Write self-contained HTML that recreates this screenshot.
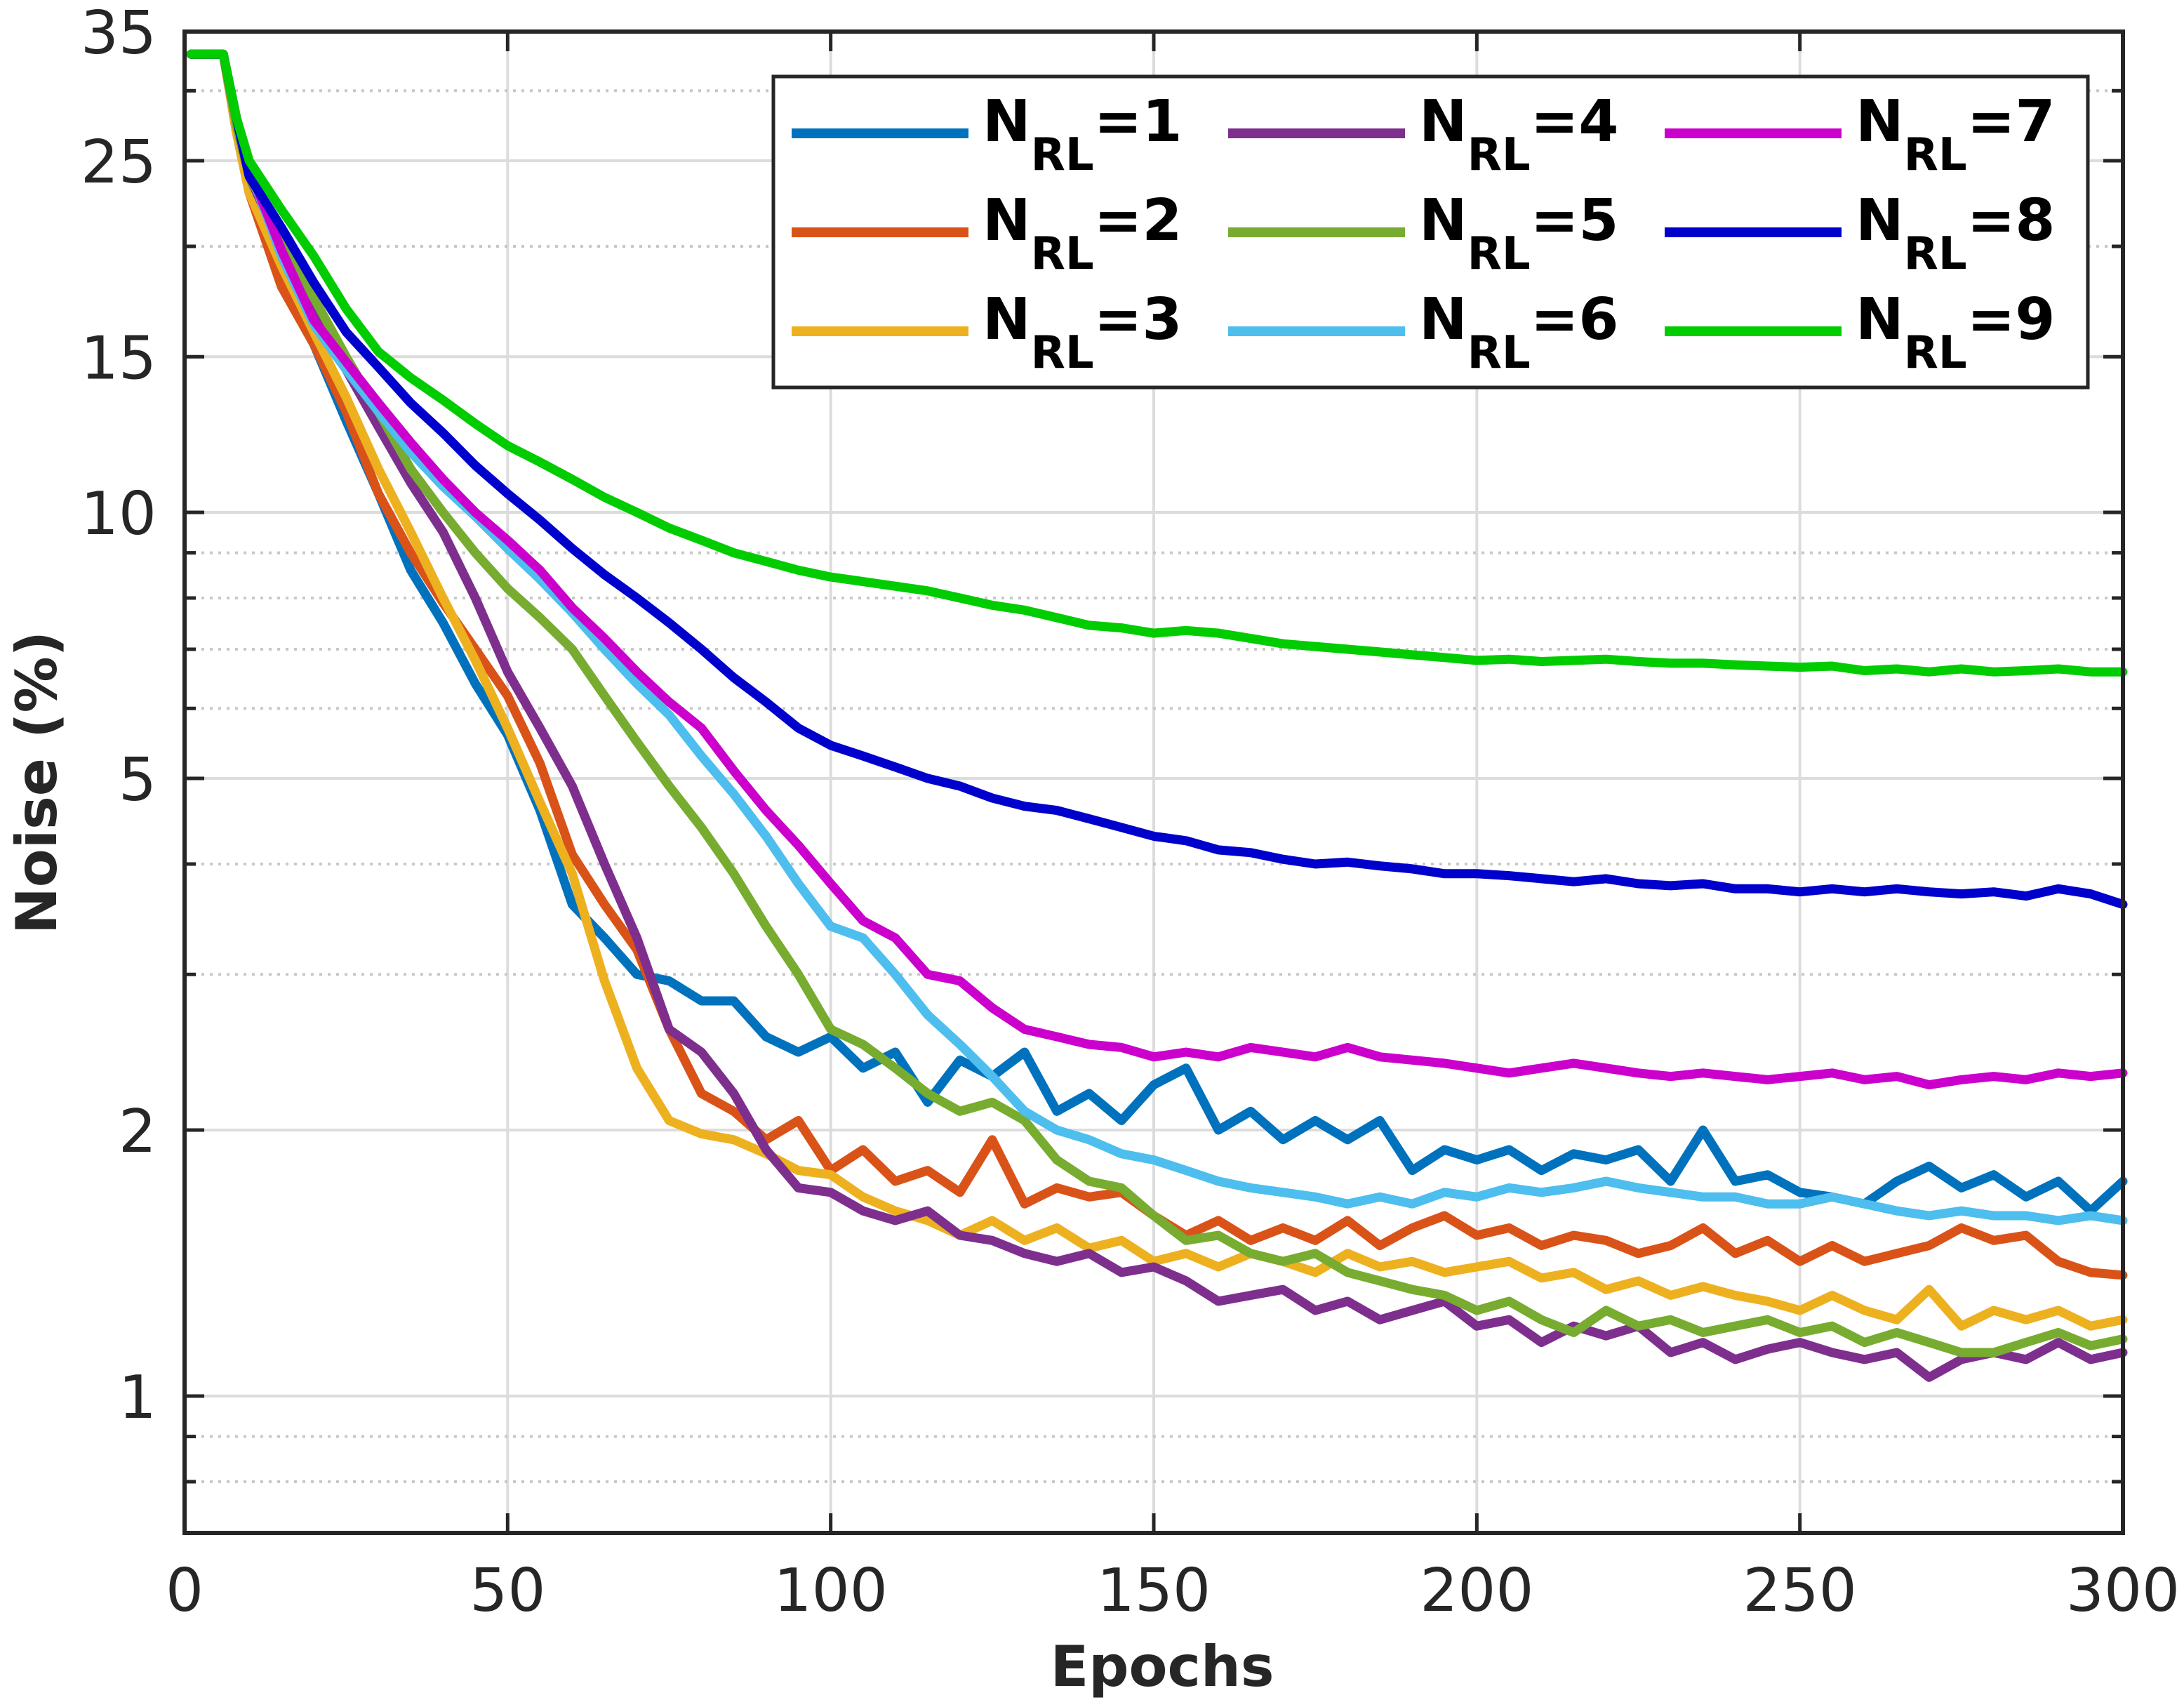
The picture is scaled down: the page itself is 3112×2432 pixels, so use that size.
<!DOCTYPE html>
<html><head><meta charset="utf-8">
<style>
html,body{margin:0;padding:0;background:#fff;}
svg{display:block;}
text{font-family:"DejaVu Sans","Liberation Sans",sans-serif;}
</style></head>
<body>
<svg id="chart" width="3112" height="2432" viewBox="0 0 3112 2432" xmlns="http://www.w3.org/2000/svg">
<rect x="0" y="0" width="3112" height="2432" fill="#fff"/>
<g id="grid"></g>
<g id="series"></g>
<g id="axes"></g>
<g id="legend"></g>
</svg>
<script>
const epochs = [1,6,8,10,15,20,25,30,35,40,45,50,55,60,65,70,75,80,85,90,95,100,105,110,115,120,125,130,135,140,145,150,155,160,165,170,175,180,185,190,195,200,205,210,215,220,225,230,235,240,245,250,255,260,265,270,275,280,285,290,295,300];
const s1 = [33,33,27,23,19,15.5,12.7,10.5,8.6,7.5,6.4,5.6,4.6,3.6,3.3,3.0,2.95,2.8,2.8,2.55,2.45,2.55,2.35,2.45,2.15,2.4,2.3,2.45,2.1,2.2,2.05,2.25,2.35,2.0,2.1,1.95,2.05,1.95,2.05,1.8,1.9,1.85,1.9,1.8,1.88,1.85,1.9,1.75,2.0,1.75,1.78,1.7,1.68,1.65,1.75,1.82,1.72,1.78,1.68,1.75,1.62,1.75];
const s2 = [33,33,27,23,18,15.5,13,10.5,9.0,7.9,7.0,6.2,5.2,4.1,3.6,3.2,2.6,2.2,2.1,1.95,2.05,1.8,1.9,1.75,1.8,1.7,1.95,1.65,1.72,1.68,1.7,1.6,1.52,1.58,1.5,1.55,1.5,1.58,1.48,1.55,1.6,1.52,1.55,1.48,1.52,1.5,1.45,1.48,1.55,1.45,1.5,1.42,1.48,1.42,1.45,1.48,1.55,1.5,1.52,1.42,1.38,1.37];
const s3 = [33,33,27,23,19,16,13.5,11.2,9.5,8.0,6.8,5.7,4.7,3.9,2.95,2.35,2.05,1.98,1.95,1.88,1.8,1.78,1.68,1.62,1.58,1.52,1.58,1.5,1.55,1.47,1.5,1.42,1.45,1.4,1.45,1.42,1.38,1.45,1.4,1.42,1.38,1.4,1.42,1.36,1.38,1.32,1.35,1.3,1.33,1.3,1.28,1.25,1.3,1.25,1.22,1.32,1.2,1.25,1.22,1.25,1.2,1.22];
const s4 = [33,33,27.5,24,20,17,14.5,12.5,10.8,9.5,8.0,6.6,5.7,4.9,4.0,3.3,2.6,2.45,2.2,1.9,1.72,1.7,1.62,1.58,1.62,1.52,1.5,1.45,1.42,1.45,1.38,1.4,1.35,1.28,1.3,1.32,1.25,1.28,1.22,1.25,1.28,1.2,1.22,1.15,1.2,1.17,1.2,1.12,1.15,1.1,1.13,1.15,1.12,1.1,1.12,1.05,1.1,1.12,1.1,1.15,1.1,1.12];
const s5 = [33,33,27.5,24,20.5,17.5,15,13,11.2,10,9.0,8.2,7.6,7.0,6.2,5.5,4.9,4.4,3.9,3.4,3.0,2.6,2.5,2.35,2.2,2.1,2.15,2.05,1.85,1.75,1.72,1.6,1.5,1.52,1.45,1.42,1.45,1.38,1.35,1.32,1.3,1.25,1.28,1.22,1.18,1.25,1.2,1.22,1.18,1.2,1.22,1.18,1.2,1.15,1.18,1.15,1.12,1.12,1.15,1.18,1.14,1.16];
const s6 = [33,33,28,24.5,19.5,16.3,14.5,13.0,11.7,10.7,9.9,9.1,8.4,7.7,7.0,6.4,5.9,5.3,4.8,4.3,3.8,3.4,3.3,3.0,2.7,2.5,2.3,2.1,2.0,1.95,1.88,1.85,1.8,1.75,1.72,1.7,1.68,1.65,1.68,1.65,1.7,1.68,1.72,1.7,1.72,1.75,1.72,1.7,1.68,1.68,1.65,1.65,1.68,1.65,1.62,1.6,1.62,1.6,1.6,1.58,1.6,1.58];
const s7 = [33,33,28,24.5,19.8,16.5,14.8,13.3,12.0,10.9,10.0,9.3,8.6,7.8,7.2,6.6,6.1,5.7,5.1,4.6,4.2,3.8,3.45,3.3,3.0,2.95,2.75,2.6,2.55,2.5,2.48,2.42,2.45,2.42,2.48,2.45,2.42,2.48,2.42,2.4,2.38,2.35,2.32,2.35,2.38,2.35,2.32,2.3,2.32,2.3,2.28,2.3,2.32,2.28,2.3,2.25,2.28,2.3,2.28,2.32,2.3,2.32];
const s8 = [33,33,28,24,21,18.2,16,14.6,13.3,12.3,11.3,10.5,9.8,9.1,8.5,8.0,7.5,7.0,6.5,6.1,5.7,5.45,5.3,5.15,5.0,4.9,4.75,4.65,4.6,4.5,4.4,4.3,4.25,4.15,4.12,4.05,4.0,4.02,3.98,3.95,3.9,3.9,3.88,3.85,3.82,3.85,3.8,3.78,3.8,3.75,3.75,3.72,3.75,3.72,3.75,3.72,3.7,3.72,3.68,3.75,3.7,3.6];
const s9 = [33,33,28,25,22,19.5,17,15.2,14.2,13.4,12.6,11.9,11.4,10.9,10.4,10.0,9.6,9.3,9.0,8.8,8.6,8.45,8.35,8.25,8.15,8.0,7.85,7.75,7.6,7.45,7.4,7.3,7.35,7.3,7.2,7.1,7.05,7.0,6.95,6.9,6.85,6.8,6.82,6.78,6.8,6.82,6.78,6.75,6.75,6.72,6.7,6.68,6.7,6.62,6.65,6.6,6.65,6.6,6.62,6.65,6.6,6.6];
const seriesValues = [s1,s2,s3,s4,s5,s6,s7,s8,s9];
const seriesLabels = ["1","2","3","4","5","6","7","8","9"];
const xTicks = [0,50,100,150,200,250,300];
const yMajor = [1,2,5,10,15,25,35];
const yMinor = [0.8,0.9,3,4,6,7,8,9,20,30];
const colors = ["#0072BD","#D95319","#EDB120","#7E2F8E","#77AC30","#4DBEEE","#CC00CC","#0000CC","#00CC00"];

const NS = "http://www.w3.org/2000/svg";
const L = 263, R = 3025, T = 45, B = 2184;
const yMin = 0.7, yMax = 35;
function xs(e){ return L + (e - 0) / 300 * (R - L); }
function ys(v){ return B - (Math.log10(v) - Math.log10(yMin)) / (Math.log10(yMax) - Math.log10(yMin)) * (B - T); }
function mk(tag, attrs, parent){
  const el = document.createElementNS(NS, tag);
  for (const k in attrs) el.setAttribute(k, attrs[k]);
  parent.appendChild(el);
  return el;
}
const grid = document.getElementById('grid');
const axes = document.getElementById('axes');
const seriesG = document.getElementById('series');
const legend = document.getElementById('legend');

xTicks.forEach(t => {
  const g = mk('line', {x1:xs(t), x2:xs(t), y1:T, y2:B, stroke:'#dcdcdc', 'stroke-width':4}, grid);
  
  
  const tk1 = mk('line', {x1:xs(t), x2:xs(t), y1:B, y2:B-28, stroke:'#262626', 'stroke-width':5}, axes);
  
  
  const tk2 = mk('line', {x1:xs(t), x2:xs(t), y1:T, y2:T+28, stroke:'#262626', 'stroke-width':5}, axes);
  
  
  const tx = mk('text', {x:xs(t), y:2295, 'text-anchor':'middle', 'font-size':85, fill:'#262626'}, axes);
  tx.textContent = t;
  
  
});
yMajor.forEach(v => {
  const g = mk('line', {x1:L, x2:R, y1:ys(v), y2:ys(v), stroke:'#dcdcdc', 'stroke-width':4}, grid);
  
  
  const tk1 = mk('line', {x1:L, x2:L+28, y1:ys(v), y2:ys(v), stroke:'#262626', 'stroke-width':5}, axes);
  
  
  const tk2 = mk('line', {x1:R, x2:R-28, y1:ys(v), y2:ys(v), stroke:'#262626', 'stroke-width':5}, axes);
  
  
  const tx = mk('text', {x:223, y:ys(v)+31, 'text-anchor':'end', 'font-size':85, fill:'#262626'}, axes);
  tx.textContent = v;
  
  
});
yMinor.forEach(v => {
  const g = mk('line', {x1:L, x2:R, y1:ys(v), y2:ys(v), stroke:'#c8c8c8', 'stroke-width':4, 'stroke-dasharray':'4 8'}, grid);
  
  
  const tk1 = mk('line', {x1:L, x2:L+16, y1:ys(v), y2:ys(v), stroke:'#262626', 'stroke-width':5}, axes);
  
  
  const tk2 = mk('line', {x1:R, x2:R-16, y1:ys(v), y2:ys(v), stroke:'#262626', 'stroke-width':5}, axes);
  
  
});

seriesValues.forEach((vals, i) => {
  const d = vals.map((v, j) => (j ? 'L' : 'M') + xs(epochs[j]).toFixed(1) + ' ' + ys(v).toFixed(1)).join(' ');
  const p = mk('path', {d:d, fill:'none', stroke:colors[i], 'stroke-width':13, 'stroke-linejoin':'round', 'stroke-linecap':'round'}, seriesG);
  
  
});

const frame = mk('rect', {x:L, y:T, width:R-L, height:B-T, fill:'none', stroke:'#262626', 'stroke-width':6}, axes);



const xl = mk('text', {x:1656, y:2402, 'text-anchor':'middle', 'font-size':80, 'font-weight':'bold', fill:'#262626'}, axes);
xl.textContent = 'Epochs';


const yl = mk('text', {x:0, y:0, 'text-anchor':'middle', 'font-size':80, 'font-weight':'bold', fill:'#262626', transform:'translate(80,1115) rotate(-90)'}, axes);
yl.textContent = 'Noise (%)';



const box = mk('rect', {x:1102, y:109, width:1873, height:443, fill:'#fff', stroke:'#262626', 'stroke-width':5}, legend);


seriesLabels.forEach((lab, i) => {
  const col = Math.floor(i / 3), row = i % 3;
  const ox = col * 622, oy = 190 + row * 141;
  const ln = mk('line', {x1:1128+ox, x2:1380+ox, y1:oy, y2:oy, stroke:colors[i], 'stroke-width':14}, legend);
  
  
  const t = mk('text', {x:1400+ox, y:oy+11, 'font-size':82, 'font-weight':'bold', fill:'#000'}, legend);
  
  
  const a = document.createElementNS(NS, 'tspan'); a.textContent = 'N'; t.appendChild(a);
  const b = document.createElementNS(NS, 'tspan'); b.textContent = 'RL'; b.setAttribute('font-size', 64); b.setAttribute('dy', 41); t.appendChild(b);
  const c = document.createElementNS(NS, 'tspan'); c.textContent = '=' + lab; c.setAttribute('dy', -41); t.appendChild(c);
});
</script>
</body></html>
